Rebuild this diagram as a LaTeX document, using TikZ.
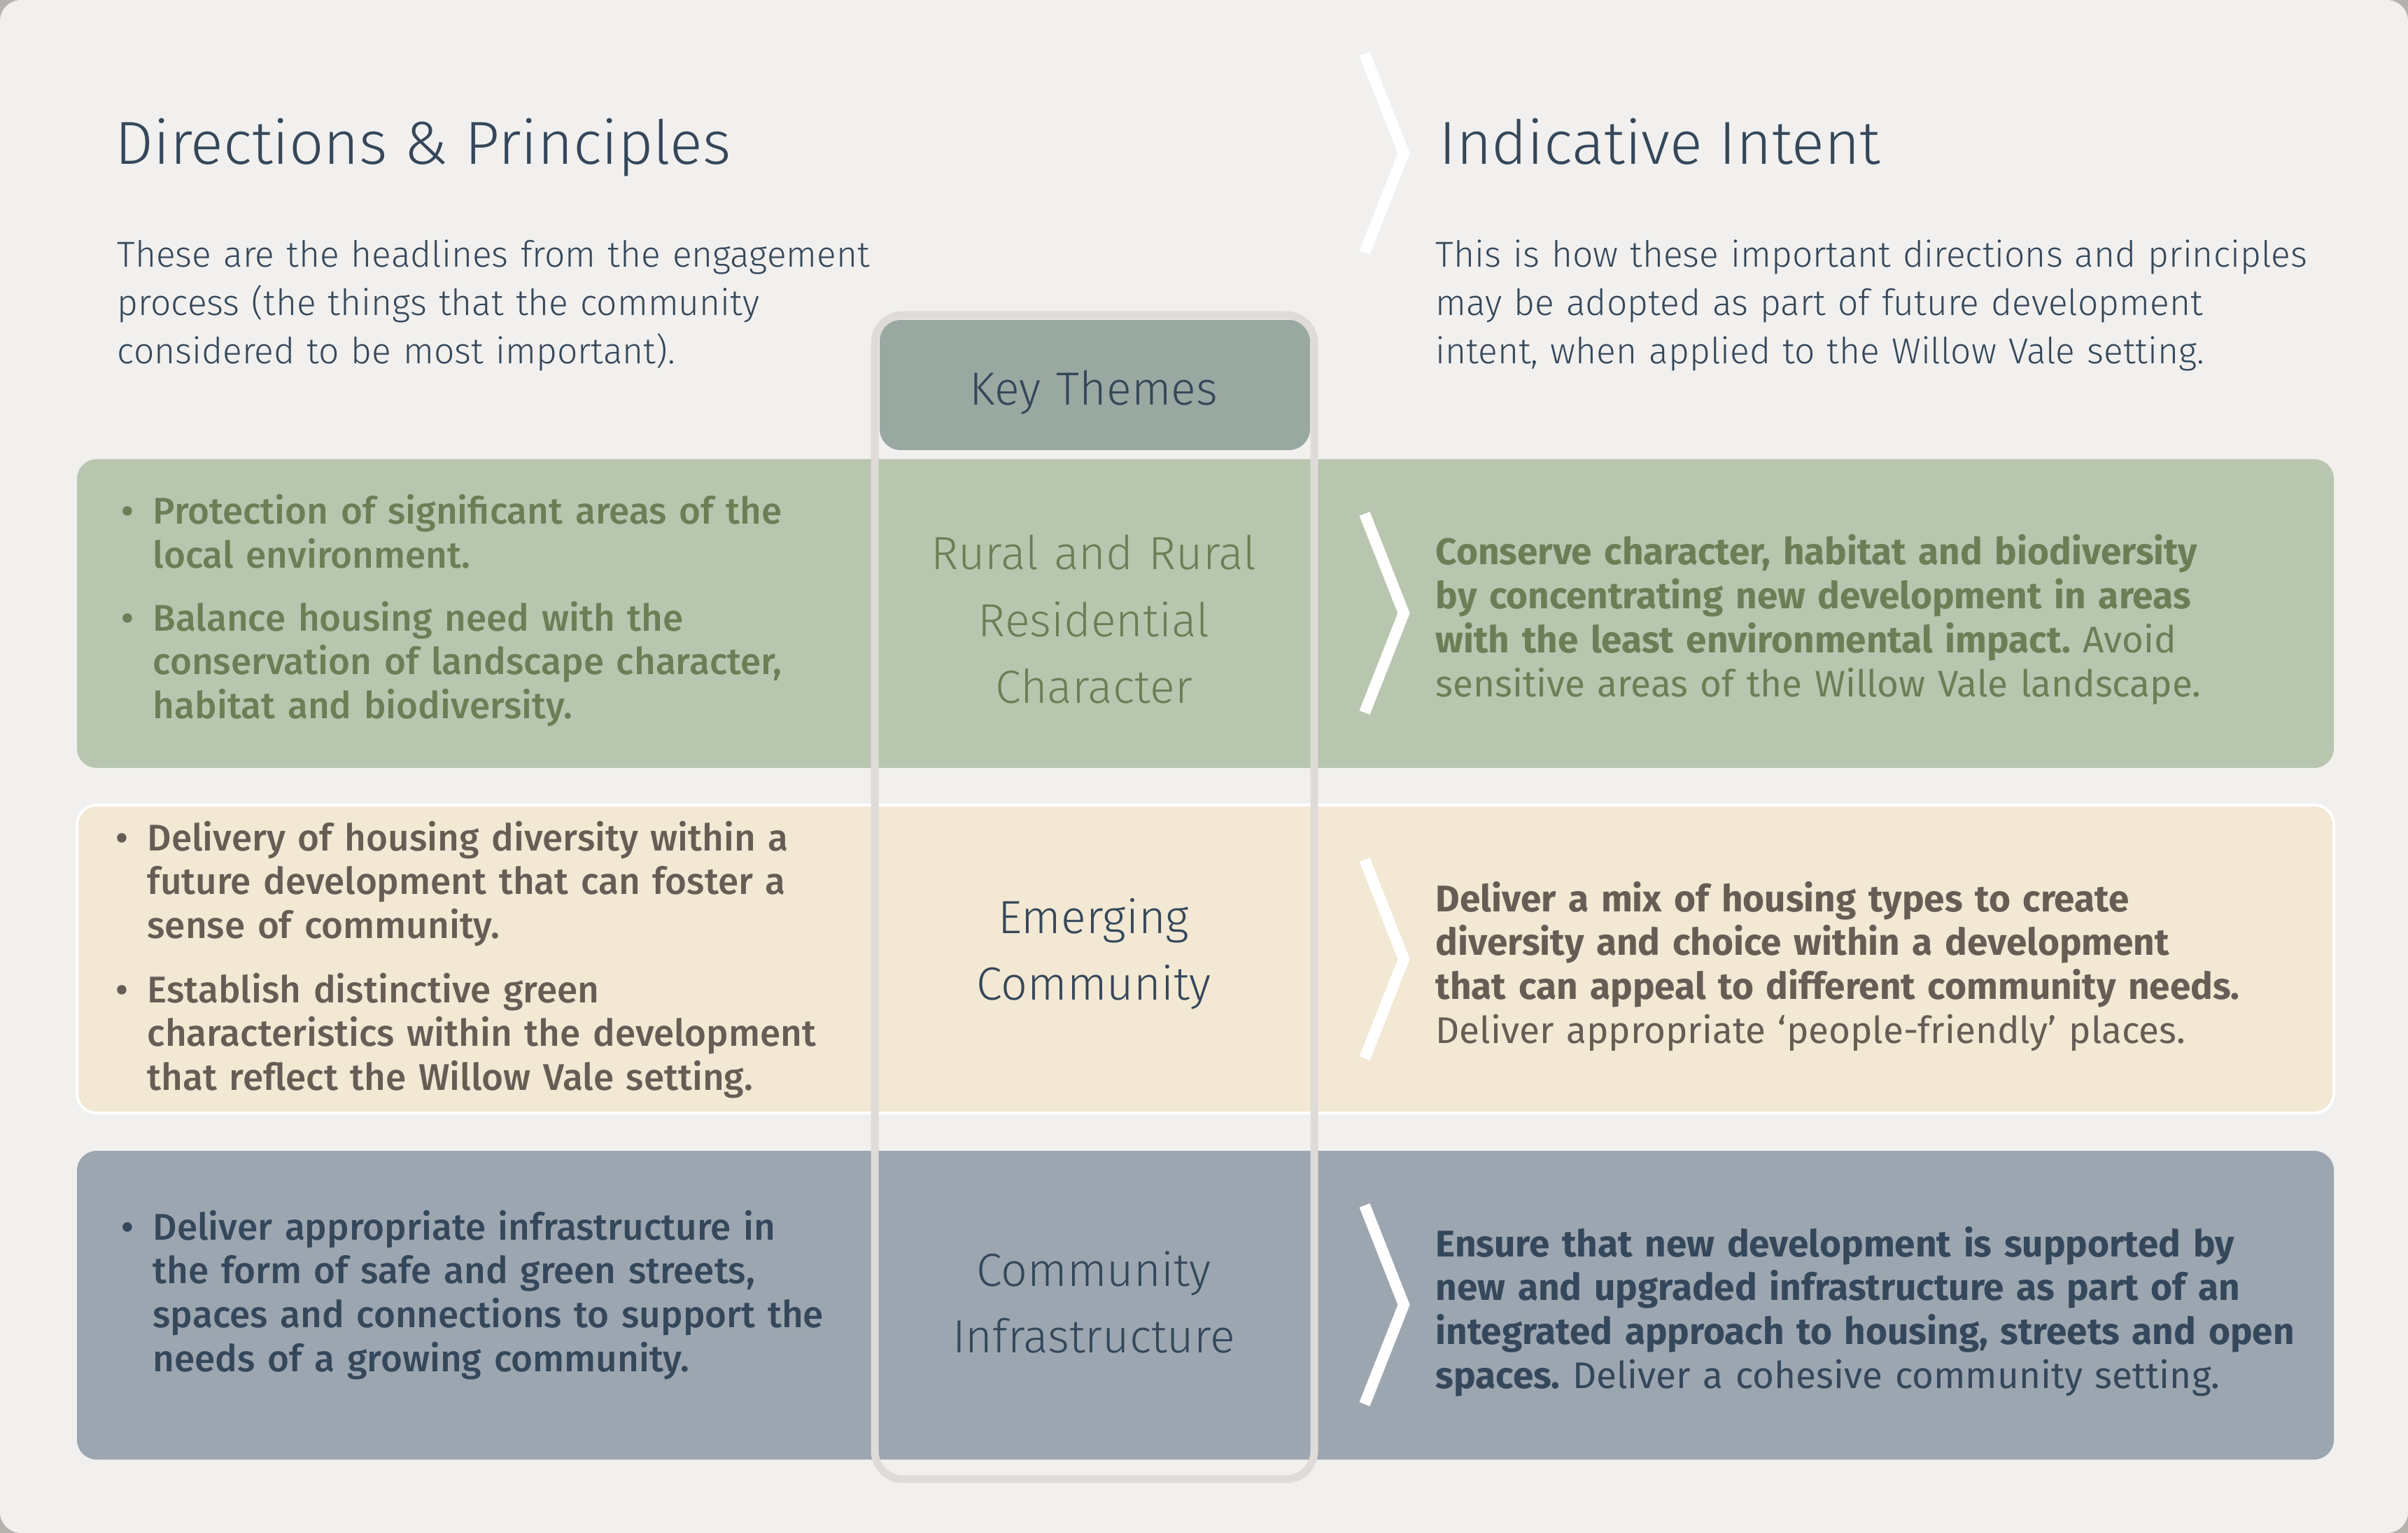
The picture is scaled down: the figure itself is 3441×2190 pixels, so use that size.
\documentclass[tikz,border=0pt]{standalone}
\usepackage{xcolor}
\usepackage{tikz}
\usepackage{fontspec}
\IfFontExistsTF{Fira Sans Medium}{%
  \setmainfont{Fira Sans Light}[BoldFont={Fira Sans Medium}]%
}{%
  \setmainfont{Fira Sans Light}[BoldFont={Fira Sans SemiBold}]%
}
\newfontfamily\plainface{Fira Sans}
\frenchspacing
\usetikzlibrary{positioning}
\definecolor{pagegrey}{HTML}{F1F0EE}
\definecolor{edgegrey}{HTML}{B5B2AD}
\definecolor{sagerow}{HTML}{B8C6AF}
\definecolor{sandrow}{HTML}{F2E8D3}
\definecolor{slaterow}{HTML}{9CA6B0}
\definecolor{themegrey}{HTML}{9AA8A2}
\definecolor{framegrey}{HTML}{DEDBD8}
\definecolor{inkslate}{HTML}{35475A}
\definecolor{inksage}{HTML}{6B7F57}
\definecolor{inkbrown}{HTML}{665E55}

\tikzset{
  rowband/.style={rounded corners=2.8mm},
  chevron/.style={draw=white, line width=1.6mm, line join=miter},
  headline/.style={anchor=base west, inner sep=0pt, text=inkslate, font=\fontsize{24.7pt}{29pt}\selectfont},
  subline/.style={anchor=base west, inner sep=0pt, text width=14cm, align=left, text=inkslate, font=\fontsize{14.65pt}{19.6pt}\selectfont},
  pointtext/.style={anchor=base west, inner sep=0pt, text width=11cm, align=left, font=\fontsize{15.1pt}{17.9pt}\selectfont\bfseries},
  intenttext/.style={anchor=base west, inner sep=0pt, text width=13cm, align=left, font=\fontsize{15.1pt}{17.9pt}\selectfont\plainface},
  themetext/.style={anchor=base, inner sep=0pt, text width=6cm, align=center, font=\fontsize{18.9pt}{27.1pt}\selectfont}
}
\newcommand{\pointdot}{\leavevmode\llap{\textbullet\hspace{2.7mm}}}

\begin{document}
\begin{tikzpicture}[x=0.1mm, y=-0.1mm]
    \useasboundingbox (0,0) rectangle (3441,2190);
    % page
    \fill[edgegrey] (0,0) rectangle (3441,2190);
    \fill[pagegrey, rounded corners=3mm] (0,0) rectangle (3441,2190);

    % row bands
    \fill[sagerow, rowband] (110,656) rectangle (3335,1097);
    \filldraw[fill=sandrow, draw=white, line width=0.4mm, rowband] (110,1150) rectangle (3335,1590);
    \fill[slaterow, rowband] (110,1644) rectangle (3335,2085);

    % key themes column
    \fill[themegrey, rounded corners=3mm] (1257,457) rectangle (1872,643);
    \draw[framegrey, line width=1.1mm, rounded corners=4mm] (1250,450) rectangle (1878,2113);

    % chevrons
    \foreach \cy in {219,876,1370,1864} {
      \draw[chevron] (1950,{\cy-142}) -- (2006,\cy) -- (1950,{\cy+142});
    }

    % headings
    \node[headline] (dirhead) at (164,235) {Directions \& Principles};
    \node[headline] (inthead) at (2056,235) {Indicative Intent};
    \node[subline] (dirsub) at (167,382) {These are the headlines from the engagement\\process (the things that the community\\considered to be most important).};
    \node[subline] (intsub) at (2051,382) {This is how these important directions and principles\\may be adopted as part of future development\\intent, when applied to the Willow Vale setting.};
    \node[themetext, text=inkslate] (keyhead) at (1563,579) {Key Themes};

    % rural row
    \node[pointtext, text=inksage] (ruralpta) at (218,749) {\pointdot Protection of significant areas of the\\local environment.};
    \node[pointtext, text=inksage] (ruralptb) at (218,901) {\pointdot Balance housing need with the\\conservation of landscape character,\\habitat and biodiversity.};
    \node[themetext, text=inksage] (ruraltheme) at (1563,814) {Rural and Rural\\Residential\\Character};
    \node[intenttext, text=inksage] (ruralintent) at (2051,807) {{\bfseries Conserve character, habitat and biodiversity\\by concentrating new development in areas\\with the least environmental impact.} Avoid\\sensitive areas of the Willow Vale landscape.};

    % community row
    \node[pointtext, text=inkbrown] (commpta) at (210,1215) {\pointdot Delivery of housing diversity within a\\future development that can foster a\\sense of community.};
    \node[pointtext, text=inkbrown] (commptb) at (210,1432) {\pointdot Establish distinctive green\\characteristics within the development\\that reflect the Willow Vale setting.};
    \node[themetext, text=inkslate] (commtheme) at (1563,1333) {Emerging\\Community};
    \node[intenttext, text=inkbrown] (commintent) at (2051,1302) {{\bfseries Deliver a mix of housing types to create\\diversity and choice within a development\\that can appeal to different community needs.}\\Deliver appropriate ‘people-friendly’ places.};

    % infrastructure row
    \node[pointtext, text=inkslate] (infrapt) at (218,1771) {\pointdot Deliver appropriate infrastructure in\\the form of safe and green streets,\\spaces and connections to support the\\needs of a growing community.};
    \node[themetext, text=inkslate] (infratheme) at (1563,1837) {Community\\Infrastructure};
    \node[intenttext, text=inkslate] (infraintent) at (2051,1795) {{\bfseries Ensure that new development is supported by\\new and upgraded infrastructure as part of an\\integrated approach to housing, streets and open\\spaces.} Deliver a cohesive community setting.};
  \end{tikzpicture}
\end{document}
